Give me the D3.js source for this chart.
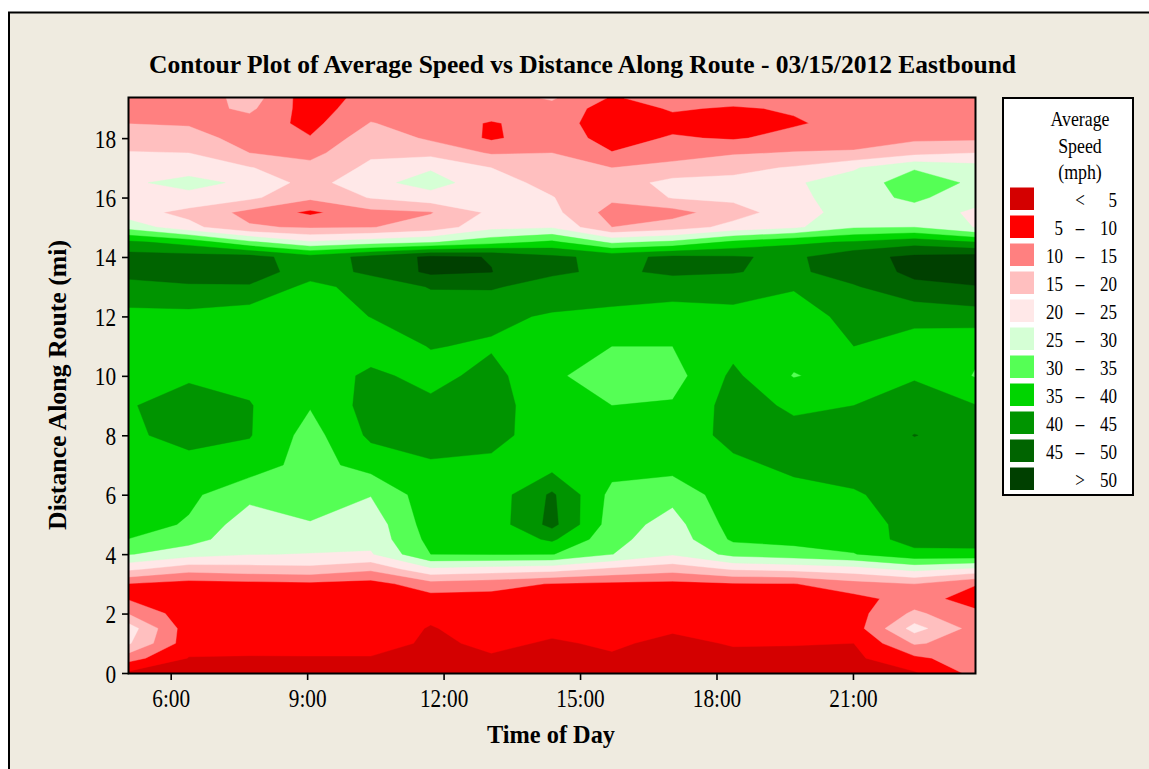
<!DOCTYPE html>
<html>
<head>
<meta charset="utf-8">
<script src="https://cdn.jsdelivr.net/npm/d3@7"></script>
<style>
  body { margin: 0; background: #ffffff; }
  svg { display: block; }
  text { font-family: "Liberation Serif", "Times New Roman", serif; fill: #000; }
</style>
</head>
<body>
<svg id="chart" width="1149" height="769"></svg>
<script>
// Sample times (columns) and distances along the route (rows)
const times = ["5:05", "6:24", "7:44", "9:04", "10:24", "11:43", "13:03", "14:23",
               "15:42", "17:02", "18:22", "19:42", "21:01", "22:21", "23:41"];
const distances = [0, 0.5, 1, 1.5, 2, 2.5, 3, 3.5, 4, 4.5, 5, 6, 7, 8, 9, 10, 11, 12,
                   13, 13.5, 14, 14.5, 15, 15.5, 16, 16.5, 17, 17.5, 18, 18.5, 19, 19.35];

// Average speed (mph), one row per distance, one value per time
const speeds = [
  [4, 3, 3, 3, 3, 3, 3, 3, 3, 3, 3, 3, 3.5, 4.5, 11.5],
  [12, 4.8, 4.5, 4.6, 4.6, 3.5, 4.5, 3.5, 4.5, 3.5, 4, 4, 4, 9, 12.5],
  [20.5, 7, 7.5, 7.5, 7.5, 4, 6, 4.5, 5.6, 4, 5.3, 5.2, 5, 15.5, 13],
  [22.5, 7, 7.5, 7.5, 7.5, 4.7, 7, 6, 7.5, 5.5, 7.5, 7.5, 7.5, 22, 13],
  [14.6, 7, 7.5, 7.5, 7.5, 6, 7.5, 7.5, 7.5, 7, 7.5, 7.5, 8, 16, 11],
  [9.5, 7, 7.5, 7.5, 7.5, 8, 8, 7.5, 7.5, 7.5, 7.5, 7.5, 8.5, 12, 8],
  [9.8, 8, 8.5, 9, 8, 13, 12, 9.7, 9, 8.5, 9.5, 9.8, 13, 15, 10.3],
  [21, 17, 18, 18.5, 16, 24, 23, 22, 19, 17, 20.5, 21.5, 23, 26.5, 24],
  [30.3, 27, 25.2, 24.8, 24.5, 35, 35.2, 35.2, 30.1, 25.5, 31.5, 33, 34.8, 38.5, 39],
  [34.9, 32, 26.5, 27.5, 26.5, 36.5, 36.5, 40.8, 31.5, 27, 35.8, 36.5, 37, 42, 41.5],
  [37, 34.5, 27, 29.8, 27, 37.5, 37, 46.5, 32.5, 28, 37, 37.5, 38, 41.5, 42.5],
  [36, 36, 31.5, 31.5, 30.2, 38, 37, 45.8, 33.5, 31.5, 38, 38.5, 39.5, 42, 43.5],
  [37, 38, 37.5, 33, 37, 39.5, 39, 38, 37, 37, 39, 41, 42, 43, 44],
  [39, 42, 40.3, 33, 41, 42, 41.5, 37.5, 37.5, 37, 41.5, 41.5, 42, 45.1, 43.5],
  [39.5, 43, 40.3, 35.3, 42, 41, 42, 37, 35, 35.5, 42, 39.2, 40, 42.5, 40.2],
  [37.5, 39, 38.5, 37, 41, 38.5, 41.5, 36, 32, 33, 41, 34.7, 37, 39.5, 34.7],
  [37, 37, 37, 36.5, 37.5, 40.2, 39.5, 37, 35, 35, 38.5, 37, 40, 38.5, 36],
  [38.5, 38.5, 37, 37.5, 40.1, 42, 41, 39.5, 39, 38, 38, 37, 42, 41, 42.5],
  [43.5, 44.5, 44.5, 38.5, 42, 45.3, 45.5, 43, 42, 42, 43, 40.5, 44.5, 49, 49.8],
  [46.5, 47, 47.5, 42.5, 46, 51, 50.1, 45.8, 44, 46, 45.2, 44, 47.5, 51, 52],
  [47, 47, 47, 42, 46.5, 51, 49.8, 46, 43.5, 46, 45.5, 44, 48.5, 51, 52],
  [41, 38, 31, 25.5, 27.5, 29.5, 33, 36, 29, 31, 36, 39, 40.5, 43, 40],
  [28, 21.5, 15.5, 14.5, 14.8, 17, 23.5, 24.5, 15, 17.5, 21.5, 24, 29.5, 30, 24.8],
  [22, 18.5, 13.5, 9.0, 13.5, 14.7, 21, 21.5, 13, 13, 18, 22.5, 27.5, 28, 24],
  [23.5, 23.5, 21, 16, 20.3, 23, 22.5, 20.2, 16, 20.3, 21, 23.5, 28, 31, 27],
  [24.3, 26.5, 24, 18, 23.5, 27, 22, 18.5, 17.5, 21.5, 21.5, 24.5, 27, 33, 29],
  [22, 23, 20.3, 16.5, 21, 24.5, 20, 17, 15, 16.5, 18.5, 20.5, 24.5, 29.5, 27],
  [20.3, 20, 15, 13.5, 19.2, 18.5, 14.5, 15, 10.2, 13, 14.5, 15.3, 15.5, 18.5, 20],
  [17.5, 17, 13, 10.3, 18, 14.2, 9.2, 13, 8, 10.5, 9.5, 11.5, 13, 14, 14],
  [14.9, 14.5, 13, 8.5, 15.2, 13, 9.5, 12.5, 7, 8.5, 7.5, 9.5, 11.5, 12.5, 13],
  [13, 13, 16, 7.5, 13, 12.5, 13, 13.5, 7.5, 10.5, 9.5, 10.5, 12, 12.5, 12.5],
  [12, 11, 17.5, 7, 12, 12, 13, 15.5, 9.5, 12, 12, 11.5, 12.5, 12.5, 12.5]
];

// Contour levels and legend entries
const thresholds = [5, 10, 15, 20, 25, 30, 35, 40, 45, 50];
const bandLabels = [["", "<", "5"], ["5", "\u2013", "10"], ["10", "\u2013", "15"], ["15", "\u2013", "20"],
                    ["20", "\u2013", "25"], ["25", "\u2013", "30"], ["30", "\u2013", "35"], ["35", "\u2013", "40"],
                    ["40", "\u2013", "45"], ["45", "\u2013", "50"], ["", ">", "50"]];
const bandColors = ["#d40000", "#ff0000", "#ff8080", "#ffbfbf", "#ffe8e8", "#d5ffd5",
                    "#55ff55", "#00d500", "#009400", "#006400", "#004000"];

// Axis ticks
const xTickLabels = ["6:00", "9:00", "12:00", "15:00", "18:00", "21:00"];
const yTickValues = [0, 2, 4, 6, 8, 10, 12, 14, 16, 18];

const chartTitle = "Contour Plot of Average Speed vs Distance Along Route - 03/15/2012 Eastbound";

// ---------------------------------------------------------------------------
const svg = d3.select("#chart");
const plot = { left: 129, right: 975, top: 98, bottom: 673 };
const SX = 0.85; // horizontal squeeze applied to the serif labels

const toHours = s => { const [h, m] = s.split(":").map(Number); return h + m / 60; };
const hours = times.map(toHours);
const nx = times.length, ny = distances.length;

const x = d3.scaleLinear().domain([hours[0], hours[nx - 1]]).range([plot.left, plot.right]);
const y = d3.scaleLinear().domain([0, distances[ny - 1]]).range([plot.bottom, plot.top]);

// Panel background with border on top and left
svg.append("rect").attr("x", 9).attr("y", 12.5).attr("width", 1300).attr("height", 900)
  .attr("fill", "#efebe0").attr("stroke", "#000").attr("stroke-width", 2);

// Filled contour bands
const values = speeds.flat();
const contours = d3.contours().size([nx, ny]).thresholds(thresholds)(values);

function interp(arr, t) {
  const i = Math.max(0, Math.min(arr.length - 2, Math.floor(t)));
  return arr[i] + (arr[i + 1] - arr[i]) * (t - i);
}
const clampIdx = (v, n) => Math.max(0, Math.min(n - 1, v - 0.5));
const gridProjection = d3.geoTransform({
  point(u, v) {
    this.stream.point(x(interp(hours, clampIdx(u, nx))), y(interp(distances, clampIdx(v, ny))));
  }
});
const path = d3.geoPath(gridProjection);

svg.append("clipPath").attr("id", "plotClip").append("rect")
  .attr("x", plot.left).attr("y", plot.top)
  .attr("width", plot.right - plot.left).attr("height", plot.bottom - plot.top);

const bands = svg.append("g").attr("clip-path", "url(#plotClip)");
bands.append("rect")
  .attr("x", plot.left).attr("y", plot.top)
  .attr("width", plot.right - plot.left).attr("height", plot.bottom - plot.top)
  .attr("fill", bandColors[0]);
bands.selectAll("path.band").data(contours).join("path")
  .attr("class", "band")
  .attr("d", path)
  .attr("fill", (d, i) => bandColors[i + 1])
  .attr("stroke", (d, i) => bandColors[i + 1])
  .attr("stroke-width", 0.4);

// Plot frame
svg.append("rect")
  .attr("x", plot.left - 0.5).attr("y", plot.top - 0.5)
  .attr("width", plot.right - plot.left + 1).attr("height", plot.bottom - plot.top + 1)
  .attr("fill", "none").attr("stroke", "#000").attr("stroke-width", 2);

// X axis
const xAxis = d3.axisBottom(x)
  .tickValues(xTickLabels.map(toHours))
  .tickFormat((d, i) => xTickLabels[i])
  .tickSize(7);
const gx = svg.append("g").attr("transform", `translate(0,${plot.bottom})`).call(xAxis);
gx.select(".domain").remove();
gx.selectAll(".tick line").attr("stroke", "#000").attr("stroke-width", 1.6);
gx.selectAll(".tick text")
  .attr("y", null).attr("dy", null)
  .attr("transform", `translate(0,34) scale(${SX},1)`)
  .attr("font-size", 25).attr("font-family", "Liberation Serif, serif").attr("fill", "#000");

// Y axis
const yAxis = d3.axisLeft(y).tickValues(yTickValues).tickFormat(d3.format("d")).tickSize(7);
const gy = svg.append("g").attr("transform", `translate(${plot.left},0)`).call(yAxis);
gy.select(".domain").remove();
gy.selectAll(".tick line").attr("stroke", "#000").attr("stroke-width", 1.6);
gy.selectAll(".tick text")
  .attr("x", null).attr("dy", null)
  .attr("transform", `translate(-13,9) scale(${SX},1)`)
  .attr("font-size", 25).attr("font-family", "Liberation Serif, serif").attr("fill", "#000");

// Titles
svg.append("text").attr("x", 582.5).attr("y", 73)
  .attr("text-anchor", "middle").attr("font-size", 26).attr("font-weight", "bold")
  .attr("textLength", 867).attr("lengthAdjust", "spacingAndGlyphs")
  .text(chartTitle);

svg.append("text").attr("x", 551).attr("y", 743)
  .attr("text-anchor", "middle").attr("font-size", 25).attr("font-weight", "bold")
  .attr("textLength", 128).attr("lengthAdjust", "spacingAndGlyphs")
  .text("Time of Day");

svg.append("text").attr("transform", "translate(66,385) rotate(-90)")
  .attr("text-anchor", "middle").attr("font-size", 25).attr("font-weight", "bold")
  .attr("textLength", 290).attr("lengthAdjust", "spacingAndGlyphs")
  .text("Distance Along Route (mi)");

// Legend
const legend = svg.append("g");
legend.append("rect").attr("x", 1003).attr("y", 98).attr("width", 130).attr("height", 397)
  .attr("fill", "#fff").attr("stroke", "#000").attr("stroke-width", 2);
["Average", "Speed", "(mph)"].forEach((t, i) => {
  legend.append("text")
    .attr("transform", `translate(1080,${126 + i * 26.5}) scale(${SX},1)`)
    .attr("text-anchor", "middle").attr("font-size", 21).text(t);
});
const rowY = d3.scaleLinear().domain([0, 1]).range([187.5, 215.5]);
const items = legend.selectAll("g.item").data(bandLabels).join("g")
  .attr("class", "item")
  .attr("transform", (d, i) => `translate(0,${rowY(i)})`);
items.append("rect").attr("x", 1010).attr("y", 0).attr("width", 24).attr("height", 22.5)
  .attr("fill", (d, i) => bandColors[i]);
items.append("text").attr("transform", `translate(1063,19.5) scale(${SX},1)`)
  .attr("text-anchor", "end").attr("font-size", 20).text(d => d[0]);
items.append("text").attr("transform", `translate(1080,19.5) scale(${SX},1)`)
  .attr("text-anchor", "middle").attr("font-size", 20).text(d => d[1]);
items.append("text").attr("transform", `translate(1117,19.5) scale(${SX},1)`)
  .attr("text-anchor", "end").attr("font-size", 20).text(d => d[2]);
</script>
</body>
</html>
